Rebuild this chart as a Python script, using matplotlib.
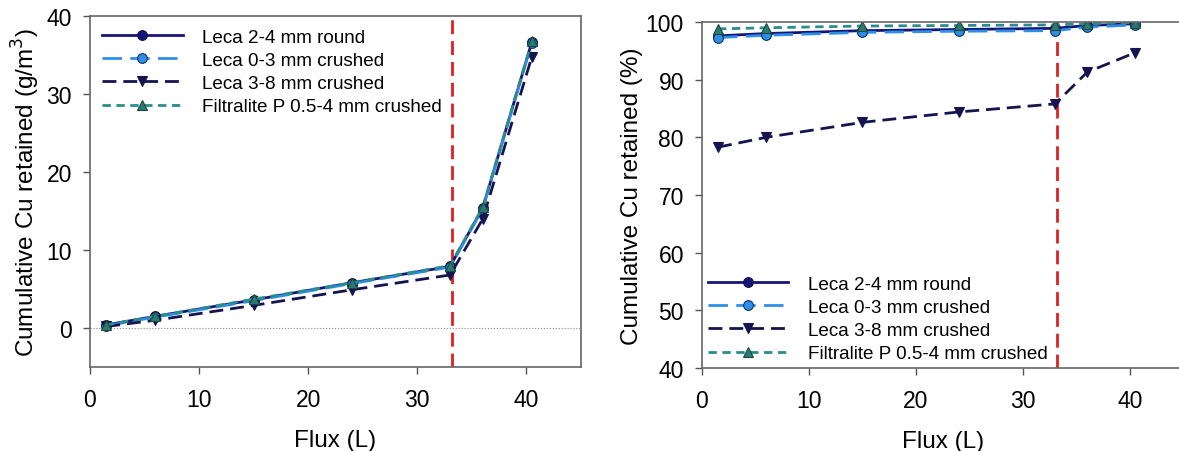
import numpy as np
import matplotlib
matplotlib.use("Agg")
from matplotlib import pyplot as plt

plt.rcParams['font.family'] = ['Liberation Sans', 'DejaVu Sans']

flux = [1.5, 6, 15, 24, 33, 36, 40.5]
breakthrough = 33.2

labels = ["Leca 2-4 mm round", "Leca 0-3 mm crushed",
          "Leca 3-8 mm crushed", "Filtralite P 0.5-4 mm crushed"]

# cumulative Cu retained (g/m3)
mass_round24 = [0.4, 1.5, 3.6, 5.8, 7.9, 15.4, 36.7]
mass_crushed03 = [0.3, 1.4, 3.5, 5.7, 7.8, 15.3, 36.6]
mass_crushed38 = [0.2, 1.0, 2.9, 4.9, 6.8, 14.0, 34.8]
mass_filtralite = [0.4, 1.5, 3.7, 5.8, 8.0, 15.5, 36.8]

# cumulative Cu retained (%)
pct_round24 = [97.6, 98.0, 98.5, 98.7, 98.9, 99.4, 99.7]
pct_crushed03 = [97.3, 97.7, 98.2, 98.4, 98.5, 99.1, 99.5]
pct_crushed38 = [78.3, 80.0, 82.6, 84.4, 85.8, 91.3, 94.7]
pct_filtralite = [98.8, 99.0, 99.3, 99.4, 99.5, 99.7, 99.9]

styles = [
    dict(color="#16167a", ls="-", marker="o", mfc="#16167a", mec="#101040"),
    dict(color="#2f8fe8", ls=(0, (7, 3)), marker="o", mfc="#2f8fe8", mec="#103060"),
    dict(color="#141450", ls=(0, (5, 2.5)), marker="v", mfc="#141450", mec="#141450"),
    dict(color="#2a8c8c", ls=(0, (3, 2)), marker="^", mfc="#2a7a70", mec="#1a4a40"),
]

fig = plt.figure(figsize=(11.79, 4.52), dpi=100)
ax1 = fig.add_axes([0.0763, 0.1858, 0.4165, 0.7765])
ax2 = fig.add_axes([0.5954, 0.1836, 0.4084, 0.7655])

for ax, series in [(ax1, [mass_round24, mass_crushed03, mass_crushed38, mass_filtralite]),
                   (ax2, [pct_round24, pct_crushed03, pct_crushed38, pct_filtralite])]:
    for y, lab, st in zip(series, labels, styles):
        ax.plot(flux, y, label=lab, lw=2, ms=7, mew=0.8, **st)
    ax.axvline(breakthrough, color="#e02020", ls=(0, (5, 2.5)), lw=2, zorder=1)
    ax.set_xlim(0, 45)
    ax.set_xticks([0, 10, 20, 30, 40])
    ax.set_xlabel("Flux (L)", fontsize=17.5, labelpad=13)
    ax.tick_params(labelsize=16.5, color="#555555", length=5, width=1, direction="out", pad=8)
    ax.tick_params(axis="x", pad=10)
    for sp in ax.spines.values():
        sp.set_color("#666666")
        sp.set_linewidth(1.2)

legend_kw = dict(frameon=False, fontsize=13.6, handlelength=4.25,
                 handletextpad=1.05, labelspacing=0.32)

ax1.axhline(0, color="#888888", ls=":", lw=0.8, zorder=0)
ax1.set_ylim(-5, 40)
ax1.set_yticks([0, 10, 20, 30, 40])
ax1.set_ylabel("Cumulative Cu retained (g/m$^3$)", fontsize=17.5, labelpad=3)
ax1.legend(loc="upper left", borderaxespad=0.25, bbox_to_anchor=(0.0, 1.0), **legend_kw)

ax2.set_ylim(40, 100)
ax2.set_yticks(range(40, 101, 10))
ax2.set_ylabel("Cumulative Cu retained (%)", fontsize=17.5, labelpad=2)
ax2.spines["right"].set_visible(False)
ax2.legend(loc="lower left", borderaxespad=0.0, borderpad=0.3,
           bbox_to_anchor=(0.0, 0.0), **legend_kw)

fig.savefig("out.png", dpi=100)
